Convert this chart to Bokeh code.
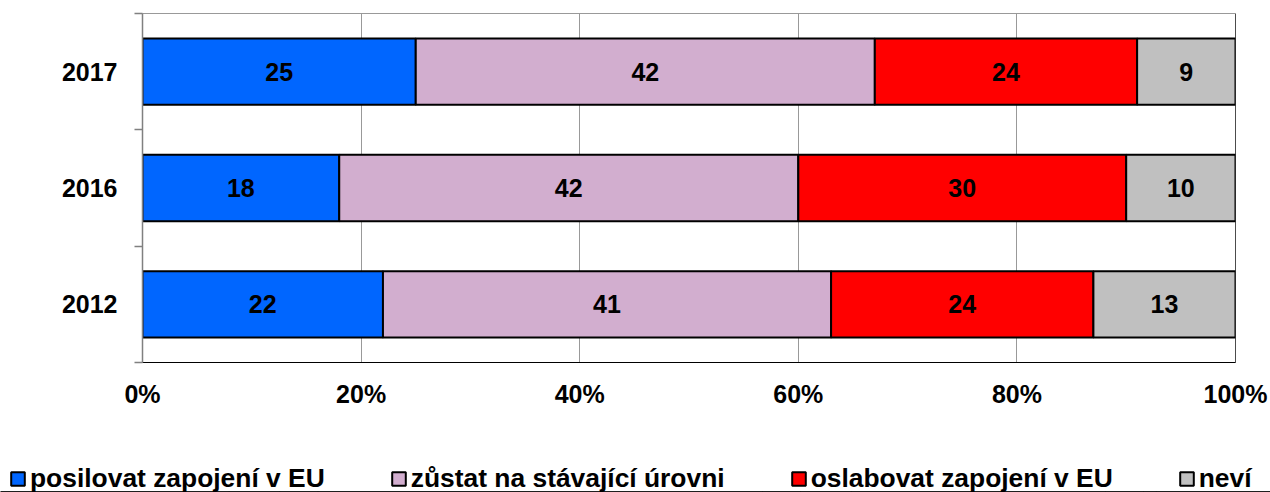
from bokeh.plotting import figure
from bokeh.models import (ColumnDataSource, FixedTicker, Legend, LegendItem, Span,
                          NumeralTickFormatter, Range1d)
from bokeh.core.properties import value
from bokeh.embed import file_html
from bokeh.resources import INLINE

years = ["2012", "2016", "2017"]
posilovat = [22, 18, 25]
zustat = [41, 42, 42]
oslabovat = [24, 30, 24]
nevi = [13, 10, 9]
series_names = ["posilovat zapojení v EU", "zůstat na stávající úrovni",
                "oslabovat zapojení v EU", "neví"]
colors = ["#0066FF", "#D2AECF", "#FF0000", "#C0C0C0"]
x_ticks = [0, 0.2, 0.4, 0.6, 0.8, 1.0]

FONT = "Liberation Sans"
keys = ["s0", "s1", "s2", "s3"]
series = [posilovat, zustat, oslabovat, nevi]
ypos = [i + 0.5 for i in range(len(years))]
data = {"y": ypos}
for k, s in zip(keys, series):
    data[k] = [v / 100 for v in s]
src = ColumnDataSource(data)

p = figure(width=1270, height=420, output_backend="svg", toolbar_location=None,
           x_range=Range1d(0, 1), y_range=Range1d(0, len(years)),
           min_border_left=142, min_border_right=35, min_border_top=13,
           min_border_bottom=58)
p.outline_line_color = "#999999"

p.hbar_stack(keys, y="y", height=0.57, source=src, fill_color=colors,
             line_color="black", line_width=2)

# labels
lx, ly, lt = [], [], []
for i in range(len(years)):
    cum = 0
    for s in series:
        v = s[i]
        lx.append((cum + v / 2) / 100)
        ly.append(ypos[i])
        lt.append(str(v))
        cum += v
p.text(x=lx, y=ly, text=lt, text_align="center", text_baseline="middle",
       text_font=value(FONT), text_font_style="bold", text_font_size="25px",
       text_color="black")

# axes
p.xaxis.ticker = FixedTicker(ticks=x_ticks)
p.xaxis.formatter = NumeralTickFormatter(format="0%")
p.xaxis.major_label_text_font = FONT
p.xaxis.major_label_text_font_style = "bold"
p.xaxis.major_label_text_font_size = "25px"
p.xaxis.major_label_text_color = "black"
p.xaxis.major_label_standoff = 17
p.xaxis.major_tick_out = 0
p.xaxis.major_tick_in = 0
p.xaxis.minor_tick_out = 0
p.xaxis.minor_tick_in = 0
p.xaxis.axis_line_color = "black"

p.yaxis.ticker = FixedTicker(ticks=ypos, minor_ticks=list(range(len(years) + 1)))
p.yaxis.major_label_overrides = {y: yr for y, yr in zip(ypos, years)}
p.yaxis.major_label_text_font = FONT
p.yaxis.major_label_text_font_style = "bold"
p.yaxis.major_label_text_font_size = "25px"
p.yaxis.major_label_text_color = "black"
p.yaxis.major_label_standoff = 17
p.yaxis.major_tick_out = 0
p.yaxis.major_tick_in = 0
p.yaxis.minor_tick_out = 8
p.yaxis.minor_tick_in = 0
p.yaxis.minor_tick_line_color = "#808080"
p.yaxis.minor_tick_line_width = 1.5
p.yaxis.axis_line_color = "#808080"
p.yaxis.axis_line_width = 1.5

p.ygrid.grid_line_color = None
p.xgrid.ticker = FixedTicker(ticks=x_ticks)
p.xgrid.grid_line_color = "#999999"
p.add_layout(Span(location=1, dimension="height", line_color="black", line_width=1))

# legend in its own strip below the chart (separate root, so no frame alignment)
lf = figure(width=1270, height=72, output_backend="svg", toolbar_location=None,
            x_range=Range1d(0, 1), y_range=Range1d(100, 101),
            x_axis_location=None, y_axis_location=None,
            min_border_left=0, min_border_right=0, min_border_top=0, min_border_bottom=0)
lf.outline_line_color = None
lf.grid.grid_line_color = None
legend_renderers = lf.hbar_stack(keys, y="y", height=0.57, source=src, fill_color=colors,
                                 line_color="black", line_width=2)
legend = Legend(items=[LegendItem(label=n, renderers=[r])
                       for n, r in zip(series_names, legend_renderers)],
                orientation="horizontal", location=(9, -2),
                label_text_font=FONT, label_text_font_style="bold",
                label_text_font_size="26.4px", label_text_color="black",
                glyph_width=17, glyph_height=17, label_standoff=4, spacing=65,
                padding=0, margin=0, border_line_color=None, background_fill_alpha=0)
lf.add_layout(legend, "center")

open("out.html", "w").write(file_html([p, lf], INLINE))
